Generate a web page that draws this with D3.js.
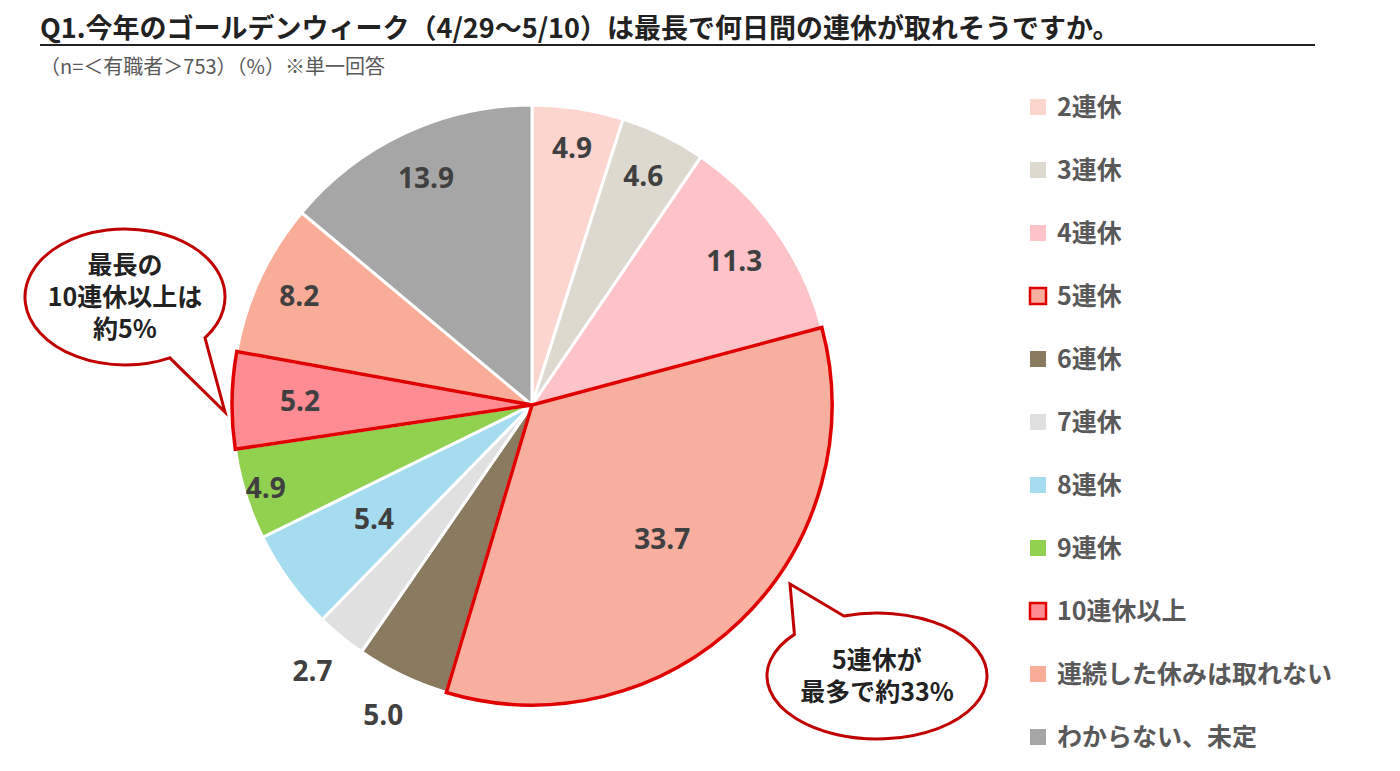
<!DOCTYPE html>
<html><head><meta charset="utf-8">
<script src="https://d3js.org/d3.v7.min.js"></script>
<style>body{margin:0;background:#fff;font-family:"Noto Sans CJK JP","Noto Sans",sans-serif;}</style>
</head><body><div id="chart"></div>
<script>
var categories = ["2連休","3連休","4連休","5連休","6連休","7連休","8連休","9連休","10連休以上","連続した休みは取れない","わからない、未定"];
var values = [4.9,4.6,11.3,33.7,5.0,2.7,5.4,4.9,5.2,8.2,13.9];
var colors = ["#FDD5CF","#DDD9CE","#FDC3C8","#F9AFA0","#8A7A5F","#E0E0E0","#A6DCF0","#92D050","#FF8B93","#F9AD98","#A6A6A6"];
var highlighted = ["5連休","10連休以上"];
var labelRadius = [260,254,248,187,344,345,195,279,232,257,250];

var W = 1400, H = 771, cx = 532, cy = 405, R = 300;
var svg = d3.select("#chart").append("svg").attr("width", W).attr("height", H);

svg.append("text").attr("x", 40).attr("y", 38).attr("font-size", 27).attr("font-weight", "bold").attr("fill", "#222")
  .text("Q1.今年のゴールデンウィーク（4/29～5/10）は最長で何日間の連休が取れそうですか。");
svg.append("line").attr("x1", 40).attr("x2", 1315).attr("y1", 45).attr("y2", 45).attr("stroke", "#222").attr("stroke-width", 2);
svg.append("text").attr("x", 40).attr("y", 74).attr("font-size", 20).attr("fill", "#595959")
  .text("（n=＜有職者＞753）（%）※単一回答");

var pie = d3.pie().sort(null).value(function(d){ return d; });
var arcs = pie(values);
var arc = d3.arc().innerRadius(0).outerRadius(R);
var g = svg.append("g").attr("transform", "translate(" + cx + "," + cy + ")");

g.selectAll("path.s").data(arcs).enter().append("path")
  .attr("d", arc).attr("fill", function(d,i){ return colors[i]; })
  .attr("stroke", "#fff").attr("stroke-width", 3);
// highlighted slices drawn on top with red outline
g.selectAll("path.h").data(arcs.filter(function(d,i){ return highlighted.indexOf(categories[i]) >= 0; })).enter().append("path")
  .attr("d", arc).attr("fill", function(d){ return colors[d.index]; })
  .attr("stroke", "#E00000").attr("stroke-width", 3.5);

g.selectAll("text.v").data(arcs).enter().append("text")
  .attr("transform", function(d,i){
    var a = (d.startAngle + d.endAngle) / 2, r = labelRadius[i];
    return "translate(" + (Math.sin(a) * r) + "," + (-Math.cos(a) * r) + ")";
  })
  .attr("text-anchor", "middle").attr("dy", "0.35em")
  .attr("font-size", 28).attr("font-weight", "bold").attr("fill", "#404040")
  .attr("font-family", "'Open Sans','Noto Sans',sans-serif")
  .text(function(d){ return d.data.toFixed(1); });

// legend
var lg = svg.append("g");
categories.forEach(function(c, i){
  var y = 107 + i * 63;
  var hl = highlighted.indexOf(c) >= 0;
  lg.append("rect").attr("x", 1030).attr("y", y - 8).attr("width", 16).attr("height", 16)
    .attr("fill", colors[i]).attr("stroke", hl ? "#E00000" : "none").attr("stroke-width", 2.5);
  lg.append("text").attr("x", 1057).attr("y", y).attr("dy", "0.36em").attr("font-size", 25)
    .attr("font-weight", "bold").attr("fill", "#595959").text(c);
});

// callouts: b1 -> b2 must go in increasing angle
function callout(ex, ey, rx, ry, tail, lines) {
  var a1 = Math.atan2(tail.b1[1], tail.b1[0]), a2 = Math.atan2(tail.b2[1], tail.b2[0]);
  var p1 = [ex + rx * Math.cos(a1), ey + ry * Math.sin(a1)];
  var p2 = [ex + rx * Math.cos(a2), ey + ry * Math.sin(a2)];
  var d = "M" + p1 + "L" + tail.tip + "L" + p2 +
    "A" + rx + "," + ry + " 0 1,1 " + p1 + "Z";
  svg.append("path").attr("d", d).attr("fill", "#fff").attr("stroke", "#C00000").attr("stroke-width", 3);
  lines.forEach(function(t, k){
    svg.append("text").attr("x", ex).attr("y", ey + (k - (lines.length - 1) / 2) * 32).attr("dy", "0.35em")
      .attr("text-anchor", "middle").attr("font-size", 25).attr("font-weight", "bold").attr("fill", "#222").text(t);
  });
}
callout(125, 297, 100, 68, {b1: [0.8, 0.6], b2: [0.45, 0.9], tip: [225, 412]}, ["最長の", "10連休以上は", "約5%"]);
callout(877, 676, 110, 63, {b1: [-0.75, -0.66], b2: [-0.3, -0.95], tip: [790, 584]}, ["5連休が", "最多で約33%"]);
</script></body></html>
